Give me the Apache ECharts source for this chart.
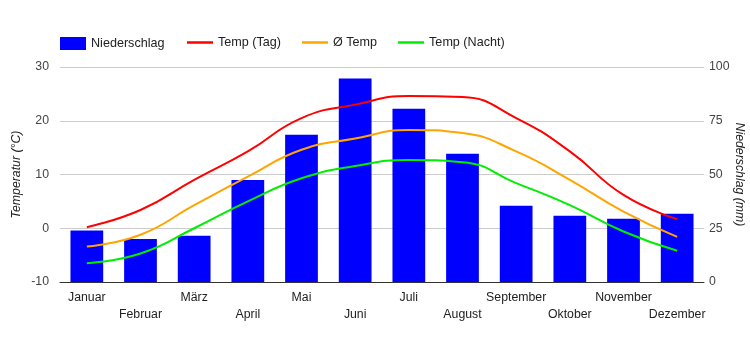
<!DOCTYPE html>
<html><head><meta charset="utf-8">
<script src="https://cdn.jsdelivr.net/npm/echarts@6/dist/echarts.min.js"></script>
<style>html,body{margin:0;padding:0;background:#fff}#c{width:750px;height:350px}</style>
</head><body><div id="c"></div>
<script>
const months = ['Januar','Februar','März','April','Mai','Juni','Juli','August','September','Oktober','November','Dezember'];
const niederschlag = [24, 20, 21.5, 47.5, 68.5, 94.6, 80.6, 59.7, 35.5, 30.8, 29.4, 31.8];
const tempTag = [0.2, 3.4, 9.0, 14.3, 20.5, 23.0, 24.6, 24.4, 20.5, 14.3, 6.2, 1.7];
const tempMittel = [-3.4, -1.2, 4.3, 9.6, 14.6, 16.7, 18.3, 17.7, 14.3, 9.0, 3.1, -1.6];
const tempNacht = [-6.5, -4.7, 0.0, 5.0, 9.3, 11.6, 12.7, 12.3, 8.4, 4.3, -0.6, -4.2];
const tempTicks = [-10, 0, 10, 20, 30];
const rainTicks = [0, 25, 50, 75, 100];

const FONT = 'Liberation Sans, Arial, sans-serif';
const legendText = {fontFamily: FONT, fontSize: 12.6, color: '#222'};
const chart = echarts.init(document.getElementById('c'), null, {renderer: 'canvas'});
chart.setOption({
  animation: false,
  textStyle: {fontFamily: FONT},
  legend: [
    {
      top: 32, left: 55, itemWidth: 26, itemHeight: 13, icon: 'rect',
      textStyle: legendText, data: ['Niederschlag']
    },
    {
      top: 31, left: 182, itemWidth: 26, itemHeight: 2.5, itemGap: 21, icon: 'rect',
      textStyle: legendText, data: ['Temp (Tag)', 'Ø Temp', 'Temp (Nacht)']
    }
  ],
  grid: {left: 60, right: 46, top: 67, bottom: 68, outerBoundsMode: 'none', containLabel: false},
  xAxis: {
    type: 'category', data: months,
    axisTick: {show: false},
    axisLine: {onZero: false, lineStyle: {color: '#333', width: 1}},
    axisLabel: {
      interval: 0, margin: 7, color: '#222', fontFamily: FONT, fontSize: 12.3, lineHeight: 17,
      formatter: (v, i) => (i % 2 === 0 ? v : '\n' + v)
    }
  },
  yAxis: [
    {
      type: 'value', min: tempTicks[0], max: tempTicks[tempTicks.length - 1], interval: 10,
      name: 'Temperatur (°C)', nameLocation: 'middle', nameGap: 37, nameRotate: 90, nameMoveOverlap: false,
      nameTextStyle: {fontStyle: 'italic', fontFamily: FONT, fontSize: 12.3, color: '#222'},
      axisLine: {show: false}, axisTick: {show: false},
      axisLabel: {margin: 11, color: '#444', fontFamily: FONT, fontSize: 12.3},
      splitLine: {lineStyle: {color: '#ccc', width: 1}}
    },
    {
      type: 'value', min: rainTicks[0], max: rainTicks[rainTicks.length - 1], interval: 25,
      name: 'Niederschlag (mm)', nameLocation: 'middle', nameGap: 29, nameRotate: -90, nameMoveOverlap: false,
      nameTextStyle: {fontStyle: 'italic', fontFamily: FONT, fontSize: 12.3, color: '#222'},
      axisLine: {show: false}, axisTick: {show: false},
      axisLabel: {margin: 5, color: '#444', fontFamily: FONT, fontSize: 12.3},
      splitLine: {show: false}
    }
  ],
  series: [
    {name: 'Niederschlag', type: 'bar', yAxisIndex: 1, data: niederschlag, barWidth: '61%',
     itemStyle: {color: '#0000ff'}, z: 1},
    {name: 'Temp (Tag)', type: 'line', yAxisIndex: 0, data: tempTag, smooth: 0.5, symbol: 'none',
     lineStyle: {color: '#ff0000', width: 2}, itemStyle: {color: '#ff0000'}, z: 3},
    {name: 'Ø Temp', type: 'line', yAxisIndex: 0, data: tempMittel, smooth: 0.5, symbol: 'none',
     lineStyle: {color: '#ffa500', width: 2}, itemStyle: {color: '#ffa500'}, z: 3},
    {name: 'Temp (Nacht)', type: 'line', yAxisIndex: 0, data: tempNacht, smooth: 0.5, symbol: 'none',
     lineStyle: {color: '#00ee00', width: 2}, itemStyle: {color: '#00ee00'}, z: 3}
  ]
});
</script></body></html>
